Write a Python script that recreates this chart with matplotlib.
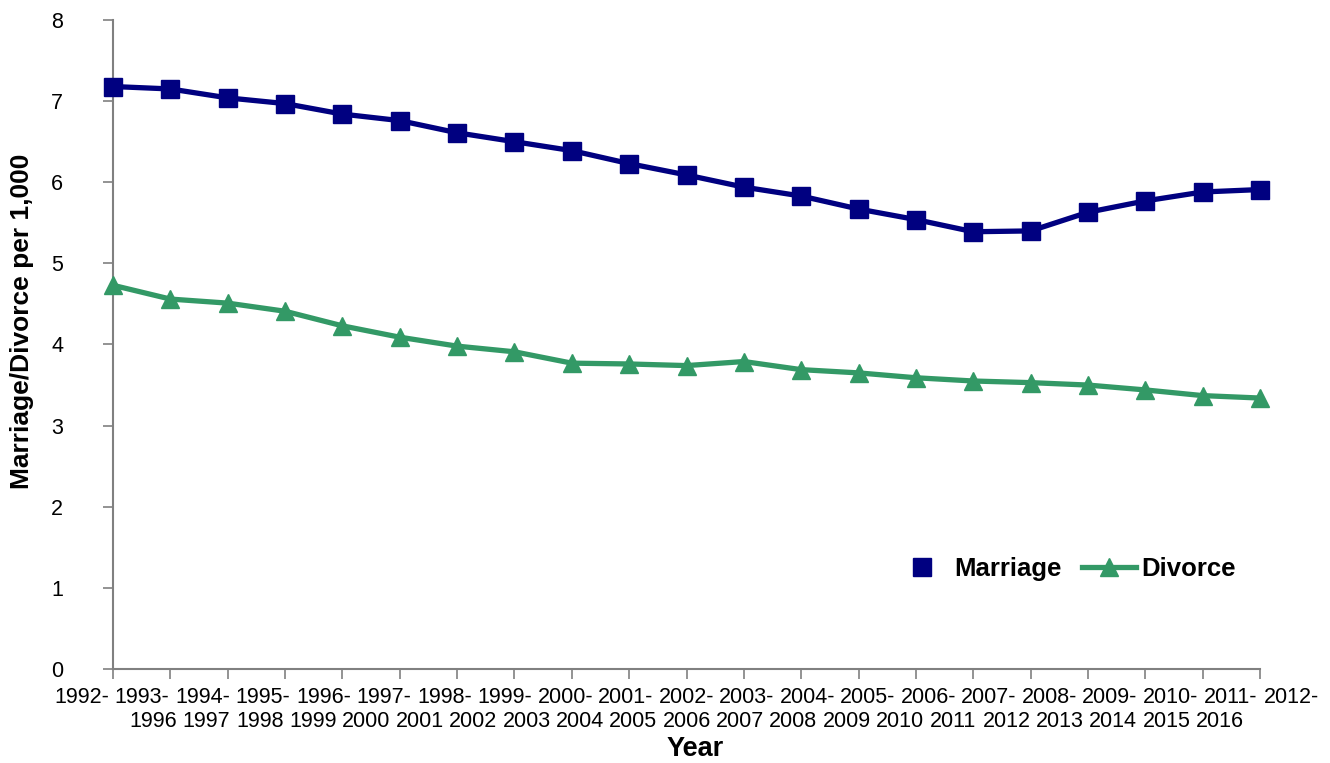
import numpy as np
import matplotlib
matplotlib.use('Agg')
from matplotlib import pyplot as plt
from matplotlib.lines import Line2D

plt.rcParams['font.family'] = ['Liberation Sans', 'DejaVu Sans']

# periodos de 5 anos
periodos = ['1992-1996', '1993-1997', '1994-1998', '1995-1999', '1996-2000',
            '1997-2001', '1998-2002', '1999-2003', '2000-2004', '2001-2005',
            '2002-2006', '2003-2007', '2004-2008', '2005-2009', '2006-2010',
            '2007-2011', '2008-2012', '2009-2013', '2010-2014', '2011-2015',
            '2012-2016']

casamento = [7.18, 7.15, 7.04, 6.97, 6.84, 6.76, 6.61, 6.50, 6.39, 6.23,
             6.09, 5.94, 5.83, 5.67, 5.54, 5.39, 5.40, 5.63, 5.77, 5.88, 5.91]
divorcio = [4.73, 4.56, 4.51, 4.41, 4.23, 4.09, 3.98, 3.91, 3.77, 3.76,
            3.74, 3.79, 3.69, 3.65, 3.59, 3.55, 3.53, 3.50, 3.44, 3.37, 3.34]

azul = '#000080'
verde = '#339966'

fig = plt.figure(figsize=(13.3, 7.63), dpi=100)
ax = fig.add_axes([113/1330, 1 - 669/763, (1260-113)/1330, (669-20)/763])

x = np.arange(len(periodos))
ax.plot(x, casamento, color=azul, lw=3.8, marker='s', ms=12.5,
        clip_on=False, zorder=3)
ax.plot(x, divorcio, color=verde, lw=3.8, marker='^', ms=13,
        clip_on=False, zorder=3)

ax.set_xlim(0, len(periodos) - 1)
ax.set_ylim(0, 8)
ax.set_yticks(range(0, 9))
ax.set_xticks(x)
ax.set_xticklabels([])

for lado in ['top', 'right']:
    ax.spines[lado].set_visible(False)
for lado in ['left', 'bottom']:
    ax.spines[lado].set_color('#808080')
    ax.spines[lado].set_linewidth(1.5)

ax.tick_params(axis='both', direction='out', length=7, width=1.2,
               color='#808080', labelsize=15.5)
ax.tick_params(axis='y', pad=29)

# rotulos do eixo x quebrados como no Excel (texto corrido em duas linhas)
meio = (len(periodos) - 1) / 2
trans = ax.get_xaxis_transform()
for i, p in enumerate(periodos):
    ini, fim = p.split('-')
    ax.text(meio + (i - meio) * 1.055, -0.0524, ini + '-', transform=trans,
            ha='center', va='baseline', fontsize=15.5, clip_on=False)
    ax.text(meio + (i - meio) * 0.93, -0.0894, fim, transform=trans,
            ha='center', va='baseline', fontsize=15.5, clip_on=False)

fig.text(695/1330, 1 - 762/763, 'Year', ha='center', va='bottom',
         fontsize=19.5, fontweight='bold')
fig.text(22/1330, 1 - 321/763, 'Marriage/Divorce per 1,000', ha='center',
         va='center', rotation=90, fontsize=19, fontweight='bold')

handles = [Line2D([], [], color=azul, marker='s', ms=12.5, lw=0),
           Line2D([], [], color=verde, marker='^', ms=13, lw=3.8)]
leg = ax.legend(handles, ['Marriage', 'Divorce'], loc='center',
                bbox_to_anchor=(1065/1330, 1 - 569/763),
                bbox_transform=fig.transFigure, ncol=2, frameon=False,
                prop={'size': 18.5, 'weight': 'bold'}, handlelength=2.1,
                handletextpad=0.2, columnspacing=0.8)

fig.savefig('out.png', dpi=100)
